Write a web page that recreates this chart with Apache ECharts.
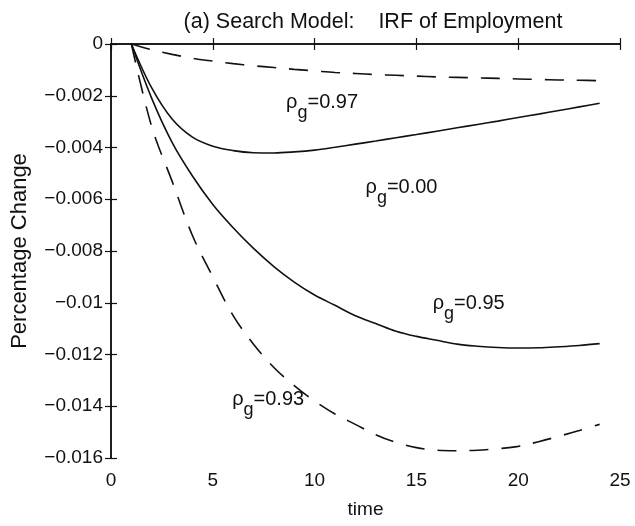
<!DOCTYPE html>
<html>
<head>
<meta charset="utf-8">
<script src="https://cdn.jsdelivr.net/npm/echarts@6/dist/echarts.min.js"></script>
<style>
  html, body { margin: 0; padding: 0; background: #fff; }
  #chart { width: 635px; height: 526px; }
</style>
</head>
<body>
<div id="chart"></div>
<script>
  // time periods 1..24
  var time = [1, 2, 3, 4, 5, 6, 7, 8, 9, 10, 11, 12, 13, 14, 15, 16, 17, 18, 19, 20, 21, 22, 23, 24];

  // IRF of employment, one array per rho_g
  var rho000 = [0, -0.00022, -0.0004, -0.00055, -0.00066, -0.00076, -0.00084, -0.00091, -0.00098, -0.00104,
    -0.0011, -0.00114, -0.00118, -0.00121, -0.00124, -0.00127, -0.00129, -0.00131, -0.00133, -0.00135,
    -0.00137, -0.00139, -0.0014, -0.00142];
  var rho097 = [0, -0.0017, -0.0029, -0.0036, -0.00395, -0.00412, -0.0042, -0.00421, -0.00417, -0.0041,
    -0.00399, -0.00387, -0.00375, -0.00362, -0.0035, -0.00337, -0.00324, -0.00311, -0.00298, -0.00284,
    -0.00271, -0.00257, -0.00243, -0.00229];
  var rho095 = [0, -0.0021, -0.0038, -0.0051, -0.0062, -0.0071, -0.0079, -0.0086, -0.0092, -0.0097,
    -0.0101, -0.0105, -0.0108, -0.0111, -0.0113, -0.01145, -0.0116, -0.01168, -0.01173, -0.01175,
    -0.01174, -0.0117, -0.01165, -0.01158];
  var rho093 = [0, -0.0032, -0.0053, -0.0074, -0.009, -0.0105, -0.0116, -0.0125, -0.0132, -0.0138,
    -0.0143, -0.0147, -0.0151, -0.0154, -0.0156, -0.0157, -0.01572, -0.0157, -0.01564, -0.01555,
    -0.01537, -0.01516, -0.01494, -0.0147];

  // axis ticks
  var xTicks = [0, 5, 10, 15, 20, 25];
  var yTicks = [-0.016, -0.014, -0.012, -0.01, -0.008, -0.006, -0.004, -0.002, 0];

  // curve labels (rho_g values) and where they sit, in data units
  var labelText = ['0.97', '0.00', '0.95', '0.93'];
  var labelAt = [[8.6, -0.0024], [12.5, -0.0057], [15.8, -0.0102], [5.95, -0.0139]];

  function pairs(ys) {
    return time.map(function (t, i) { return [t, ys[i]]; });
  }

  function fmtY(v) {
    if (Math.abs(v) < 1e-9) return '0';
    var s = v.toFixed(3).replace(/0+$/, '');
    return s.replace('-', '\u2212');
  }

  var ink = '#111';
  var font = 'Liberation Sans, Arial, Helvetica, sans-serif';

  var myChart = echarts.init(document.getElementById('chart'), null, { renderer: 'canvas' });

  var tickStyle = { inside: true, length: 6, lineStyle: { color: ink, width: 1.2 } };
  var lineAxis = { lineStyle: { color: ink, width: 1.5 } };

  function lineSeries(name, ys, dashed) {
    return {
      name: name,
      type: 'line',
      data: pairs(ys),
      showSymbol: false,
      smooth: 0.35,
      lineStyle: { color: ink, width: 1.6, type: dashed ? [19, 13] : 'solid' }
    };
  }

  var series = [
    lineSeries('rho_g=0.00', rho000, true),
    lineSeries('rho_g=0.97', rho097, false),
    lineSeries('rho_g=0.95', rho095, false),
    lineSeries('rho_g=0.93', rho093, true)
  ];

  // text labels placed on the data scale
  series[0].markPoint = {
    symbol: 'circle',
    symbolSize: 0,
    silent: true,
    label: {
      show: true,
      position: 'right',
      distance: 0,
      formatter: function (p) { return '{r|\u03c1}{s|g}{r|=' + p.name + '}'; },
      rich: {
        r: { fontSize: 20, color: ink, fontFamily: font, padding: [0, 0, 8, 0] },
        s: { fontSize: 18, color: ink, fontFamily: font, padding: [13, 0, 0, 0] }
      }
    },
    data: labelText.map(function (t, i) { return { name: t, coord: labelAt[i] }; })
  };

  var option = {
    animation: false,
    backgroundColor: '#fff',
    textStyle: { fontFamily: font, color: ink },
    title: {
      text: '(a) Search Model:    IRF of Employment',
      left: 368,
      textAlign: 'center',
      top: 6,
      textStyle: { fontSize: 21.5, fontWeight: 'normal', color: ink, fontFamily: font }
    },
    grid: { left: 111, right: 15, top: 44, bottom: 68 },
    xAxis: [{
      type: 'value',
      min: xTicks[0],
      max: xTicks[xTicks.length - 1],
      interval: xTicks[1] - xTicks[0],
      name: 'time',
      nameLocation: 'middle',
      nameGap: 42,
      nameTextStyle: { fontSize: 19, color: ink },
      axisLine: lineAxis,
      axisTick: tickStyle,
      axisLabel: { fontSize: 19, color: ink, margin: 13 },
      splitLine: { show: false }
    }, {
      type: 'value',
      position: 'top',
      min: xTicks[0],
      max: xTicks[xTicks.length - 1],
      interval: xTicks[1] - xTicks[0],
      axisLine: lineAxis,
      axisTick: tickStyle,
      axisLabel: { show: false },
      splitLine: { show: false }
    }],
    yAxis: [{
      type: 'value',
      min: yTicks[0],
      max: yTicks[yTicks.length - 1],
      interval: yTicks[1] - yTicks[0],
      name: 'Percentage Change',
      nameLocation: 'middle',
      nameGap: 80,
      nameTextStyle: { fontSize: 22, color: ink },
      axisLine: { show: true, lineStyle: { color: ink, width: 1.5 } },
      axisTick: tickStyle,
      axisLabel: { fontSize: 19, color: ink, margin: 8, formatter: fmtY },
      splitLine: { show: false }
    }, {
      type: 'value',
      position: 'right',
      min: yTicks[0],
      max: yTicks[yTicks.length - 1],
      interval: yTicks[1] - yTicks[0],
      axisLine: { show: true, lineStyle: { color: ink, width: 1.5 } },
      axisTick: tickStyle,
      axisLabel: { show: false },
      splitLine: { show: false }
    }],
    series: series
  };

  myChart.setOption(option);
</script>
</body>
</html>
